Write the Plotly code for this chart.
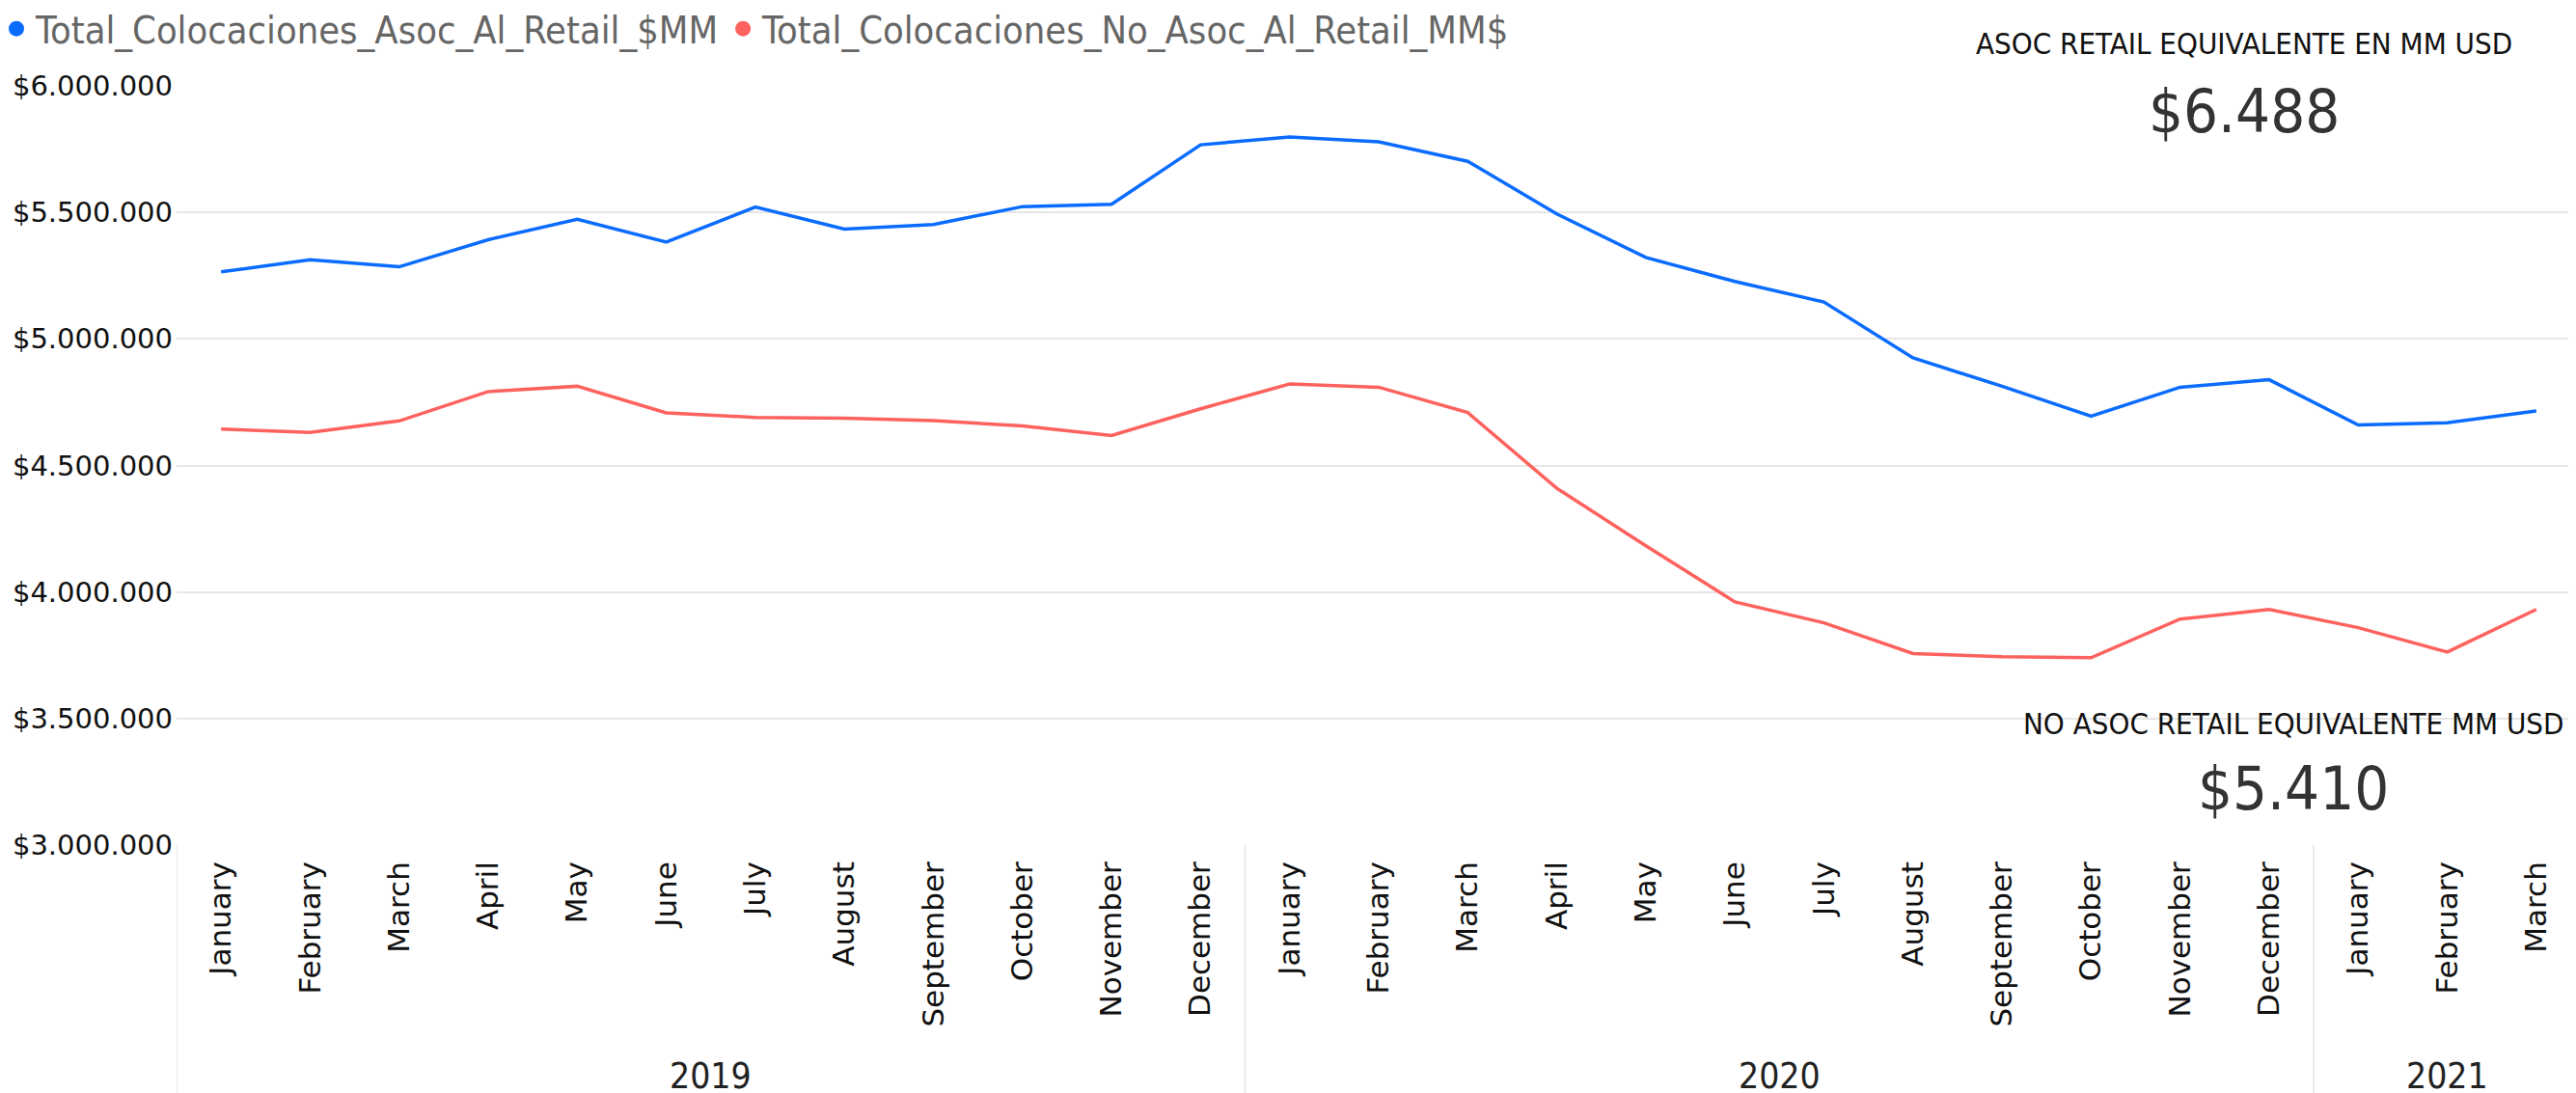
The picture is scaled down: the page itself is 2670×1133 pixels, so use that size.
import plotly.graph_objects as go

months = ["January", "February", "March", "April", "May", "June", "July", "August",
          "September", "October", "November", "December",
          "January", "February", "March", "April", "May", "June", "July", "August",
          "September", "October", "November", "December",
          "January", "February", "March"]
years = ["2019", "2020", "2021"]
year_counts = [12, 12, 3]

asoc = [5265000, 5313000, 5285000, 5392000, 5473000, 5383000, 5521000, 5434000,
        5452000, 5523000, 5532000, 5767000,
        5798000, 5779000, 5702000, 5494000, 5322000, 5227000, 5146000, 4925000,
        4813000, 4695000, 4809000, 4839000,
        4660000, 4669000, 4715000]
no_asoc = [4644000, 4631000, 4676000, 4792000, 4813000, 4708000, 4690000, 4687000,
           4677000, 4656000, 4618000, 4724000,
           4822000, 4809000, 4709000, 4410000, 4183000, 3961000, 3878000, 3757000,
           3744000, 3740000, 3893000, 3931000,
           3859000, 3763000, 3931000]

y_ticks = [3000000, 3500000, 4000000, 4500000, 5000000, 5500000, 6000000]
y_ticktext = ["$3.000.000", "$3.500.000", "$4.000.000", "$4.500.000",
              "$5.000.000", "$5.500.000", "$6.000.000"]

series_names = ["Total_Colocaciones_Asoc_Al_Retail_$MM", "Total_Colocaciones_No_Asoc_Al_Retail_MM$"]
kpi_titles = ["ASOC RETAIL EQUIVALENTE EN MM USD", "NO ASOC RETAIL EQUIVALENTE MM USD"]
kpi_values = ["$6.488", "$5.410"]

BLUE = "#0A6CFF"
RED = "#FD625E"
NARROW = "Liberation Sans Narrow, DejaVu Sans Condensed, Roboto, sans-serif"

W, H = 2670, 1133
L, R, T, B = 175, 3, 81, 265
PW, PH = W - L - R, H - T - B

def px_to_paper_x(px):
    return (px - L) / PW

def px_to_paper_y(py):
    return 1 - (py - T) / PH

x = list(range(len(months)))
fig = go.Figure()
for vals, name, col in [(asoc, series_names[0], BLUE), (no_asoc, series_names[1], RED)]:
    fig.add_trace(go.Scatter(x=x, y=vals, mode="lines", name=name,
                             line=dict(color=col, width=3.5), showlegend=False,
                             hovertemplate="%{y:$,.0f}<extra>" + name + "</extra>"))
    fig.add_trace(go.Scatter(x=[None], y=[None], mode="markers", name=name,
                             marker=dict(color=col, size=16, symbol="circle")))

shapes = []
annotations = []
start = 0
for yr, cnt in zip(years, year_counts):
    x0 = start - 0.5
    shapes.append(dict(type="line", xref="x", yref="paper", x0=x0, x1=x0,
                       y0=0, y1=-(B) / PH, line=dict(color="#E3E3E3", width=1.5)))
    annotations.append(dict(xref="x", yref="paper", x=start - 0.5 + cnt / 2, y=px_to_paper_y(1107),
                            text=yr, showarrow=False, xanchor="center", yanchor="middle",
                            font=dict(family=NARROW, size=37, color="#222222")))
    start += cnt

kpi_pos = [(2318, 37, 2318, 107), (2369, 742, 2369, 809)]
for (tx, ty, vx, vy), title, val in zip(kpi_pos, kpi_titles, kpi_values):
    annotations.append(dict(xref="paper", yref="paper", x=px_to_paper_x(tx), y=px_to_paper_y(ty),
                            text=title, showarrow=False, xanchor="center", yanchor="middle",
                            font=dict(family=NARROW, size=31, color="#111111")))
    annotations.append(dict(xref="paper", yref="paper", x=px_to_paper_x(vx), y=px_to_paper_y(vy),
                            text=val, showarrow=False, xanchor="center", yanchor="middle",
                            font=dict(family=NARROW, size=63, color="#333333")))

fig.update_layout(
    width=W, height=H,
    margin=dict(l=L, r=R, t=T, b=B, autoexpand=False),
    paper_bgcolor="white", plot_bgcolor="white",
    showlegend=True,
    legend=dict(orientation="h", xref="paper", yref="paper",
                x=px_to_paper_x(-11), y=px_to_paper_y(22),
                xanchor="left", yanchor="middle",
                font=dict(family=NARROW, size=39.5, color="#666666"),
                itemsizing="trace", bgcolor="rgba(0,0,0,0)",
                tracegroupgap=0, itemwidth=30),
    shapes=shapes,
    annotations=annotations,
)
fig.update_xaxes(range=[-0.5, len(months) - 0.5], tickvals=x, ticktext=months,
                 tickangle=-90, showgrid=False, zeroline=False, showline=False,
                 ticks="", tickfont=dict(family="DejaVu Sans", size=31, color="#111111"),
                 ticklabelstandoff=10)
fig.update_yaxes(range=[3000000, 6000000], tickvals=y_ticks, ticktext=y_ticktext,
                 showgrid=True, gridcolor="#E6E6E6", gridwidth=1.5, zeroline=False,
                 showline=False, ticks="",
                 tickfont=dict(family="DejaVu Sans", size=29, color="#111111"),
                 ticklabelstandoff=3)

fig.write_html("out.html")
